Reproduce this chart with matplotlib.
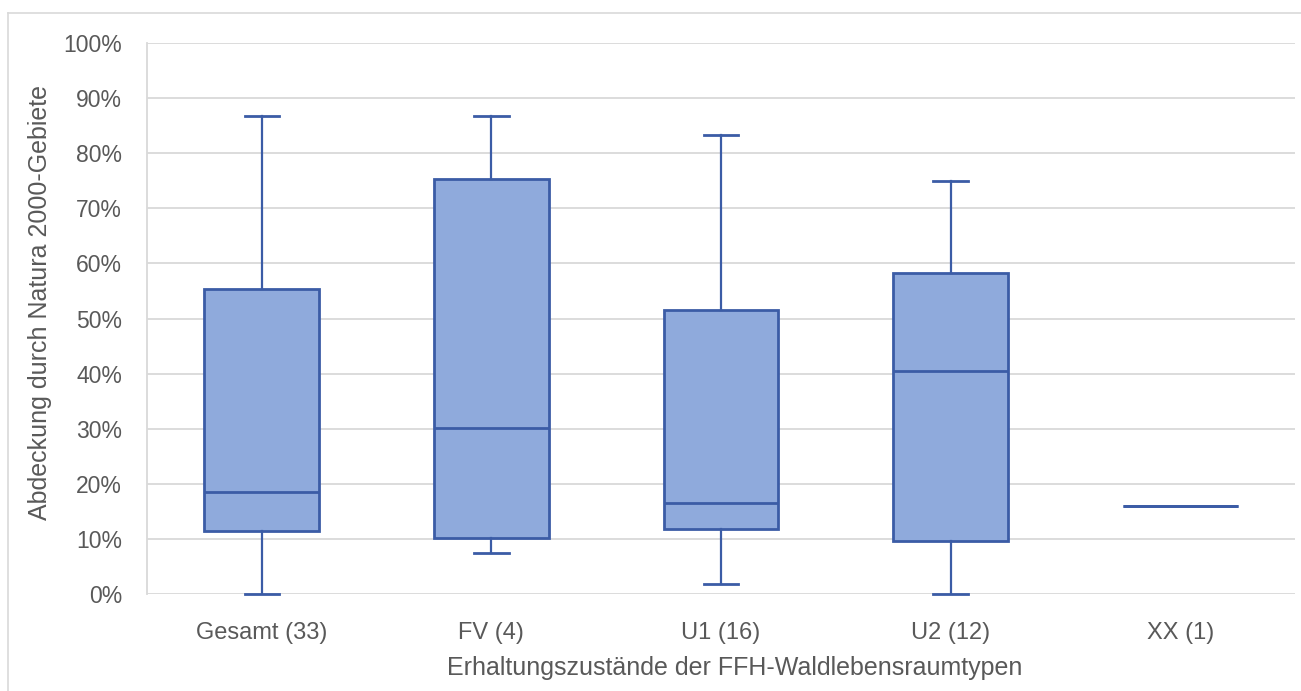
import matplotlib
matplotlib.use("Agg")
import matplotlib.pyplot as plt
from matplotlib.lines import Line2D

plt.rcParams['font.family'] = ['Liberation Sans', 'DejaVu Sans']

categories = ["Gesamt (33)", "FV (4)", "U1 (16)", "U2 (12)", "XX (1)"]
whislo = [0.0, 7.5, 1.9, 0.0, 16.0]
q1 = [11.5, 10.2, 11.8, 9.6, 16.0]
med = [18.5, 30.2, 16.6, 40.5, 16.0]
q3 = [55.3, 75.4, 51.5, 58.3, 16.0]
whishi = [86.7, 86.7, 83.3, 75.0, 16.0]
yticks = list(range(0, 101, 10))
ylabel = "Abdeckung durch Natura 2000-Gebiete"
xlabel = "Erhaltungszustände der FFH-Waldlebensraumtypen"

W, H = 1301, 691
fig = plt.figure(figsize=(W / 100, H / 100), dpi=100)
# outer frame: only top and left edges visible
fig.lines.append(Line2D([8 / W, 1], [1 - 13 / H, 1 - 13 / H], transform=fig.transFigure,
                        color='#D9D9D9', linewidth=1.2))
fig.lines.append(Line2D([8 / W, 8 / W], [0, 1 - 13 / H], transform=fig.transFigure,
                        color='#D9D9D9', linewidth=1.2))
ax = fig.add_axes([147 / W, (H - 594) / H, (1295 - 147) / W, (594 - 43) / H])

edge = '#3B5CA6'
fill = '#8FAADC'
stats = []
for i in range(len(categories)):
    stats.append(dict(whislo=whislo[i], q1=q1[i], med=med[i], q3=q3[i], whishi=whishi[i], fliers=[]))

positions = list(range(len(categories)))
res = ax.bxp(stats[:4], positions=positions[:4], widths=0.5, patch_artist=True, showfliers=False,
             boxprops=dict(facecolor=fill, edgecolor=edge, linewidth=2.0),
             medianprops=dict(color=edge, linewidth=2.0),
             whiskerprops=dict(color=edge, linewidth=1.6),
             capprops=dict(color=edge, linewidth=2.0), capwidths=0.15)
for c in res['caps']:
    c.set_clip_on(False)
# single-value category drawn as a line across box width
ax.bxp([stats[4]], positions=[positions[4]], widths=0.5, patch_artist=True, showfliers=False, showcaps=False,
       boxprops=dict(facecolor=fill, edgecolor=edge, linewidth=2.0),
       medianprops=dict(color=edge, linewidth=2.0),
       whiskerprops=dict(color=edge, linewidth=1.6))

ax.set_xlim(-0.5, len(categories) - 0.5)
ax.set_ylim(0, 100)
ax.set_yticks(yticks)
ax.set_yticklabels([f"{t}%" for t in yticks])
ax.set_xticks(positions)
ax.set_xticklabels(categories)
ax.grid(axis='y', color='#D9D9D9', linewidth=1.3)
ax.set_axisbelow(True)
for s in ['top', 'right', 'bottom']:
    ax.spines[s].set_visible(False)
ax.spines['left'].set_color('#D9D9D9')
ax.spines['left'].set_linewidth(1.3)
ax.tick_params(axis='both', length=0, labelcolor='#595959')
ax.tick_params(axis='y', pad=18, labelsize=16.5)
ax.tick_params(axis='x', pad=20, labelsize=17)

fig.text(735 / W, 1 - 668 / H, xlabel, ha='center', va='center', fontsize=18, color='#595959')
fig.text(40 / W, 1 - 302 / H, ylabel, ha='center', va='center', rotation=90, fontsize=18, color='#595959')

fig.savefig("out.png", dpi=100)
